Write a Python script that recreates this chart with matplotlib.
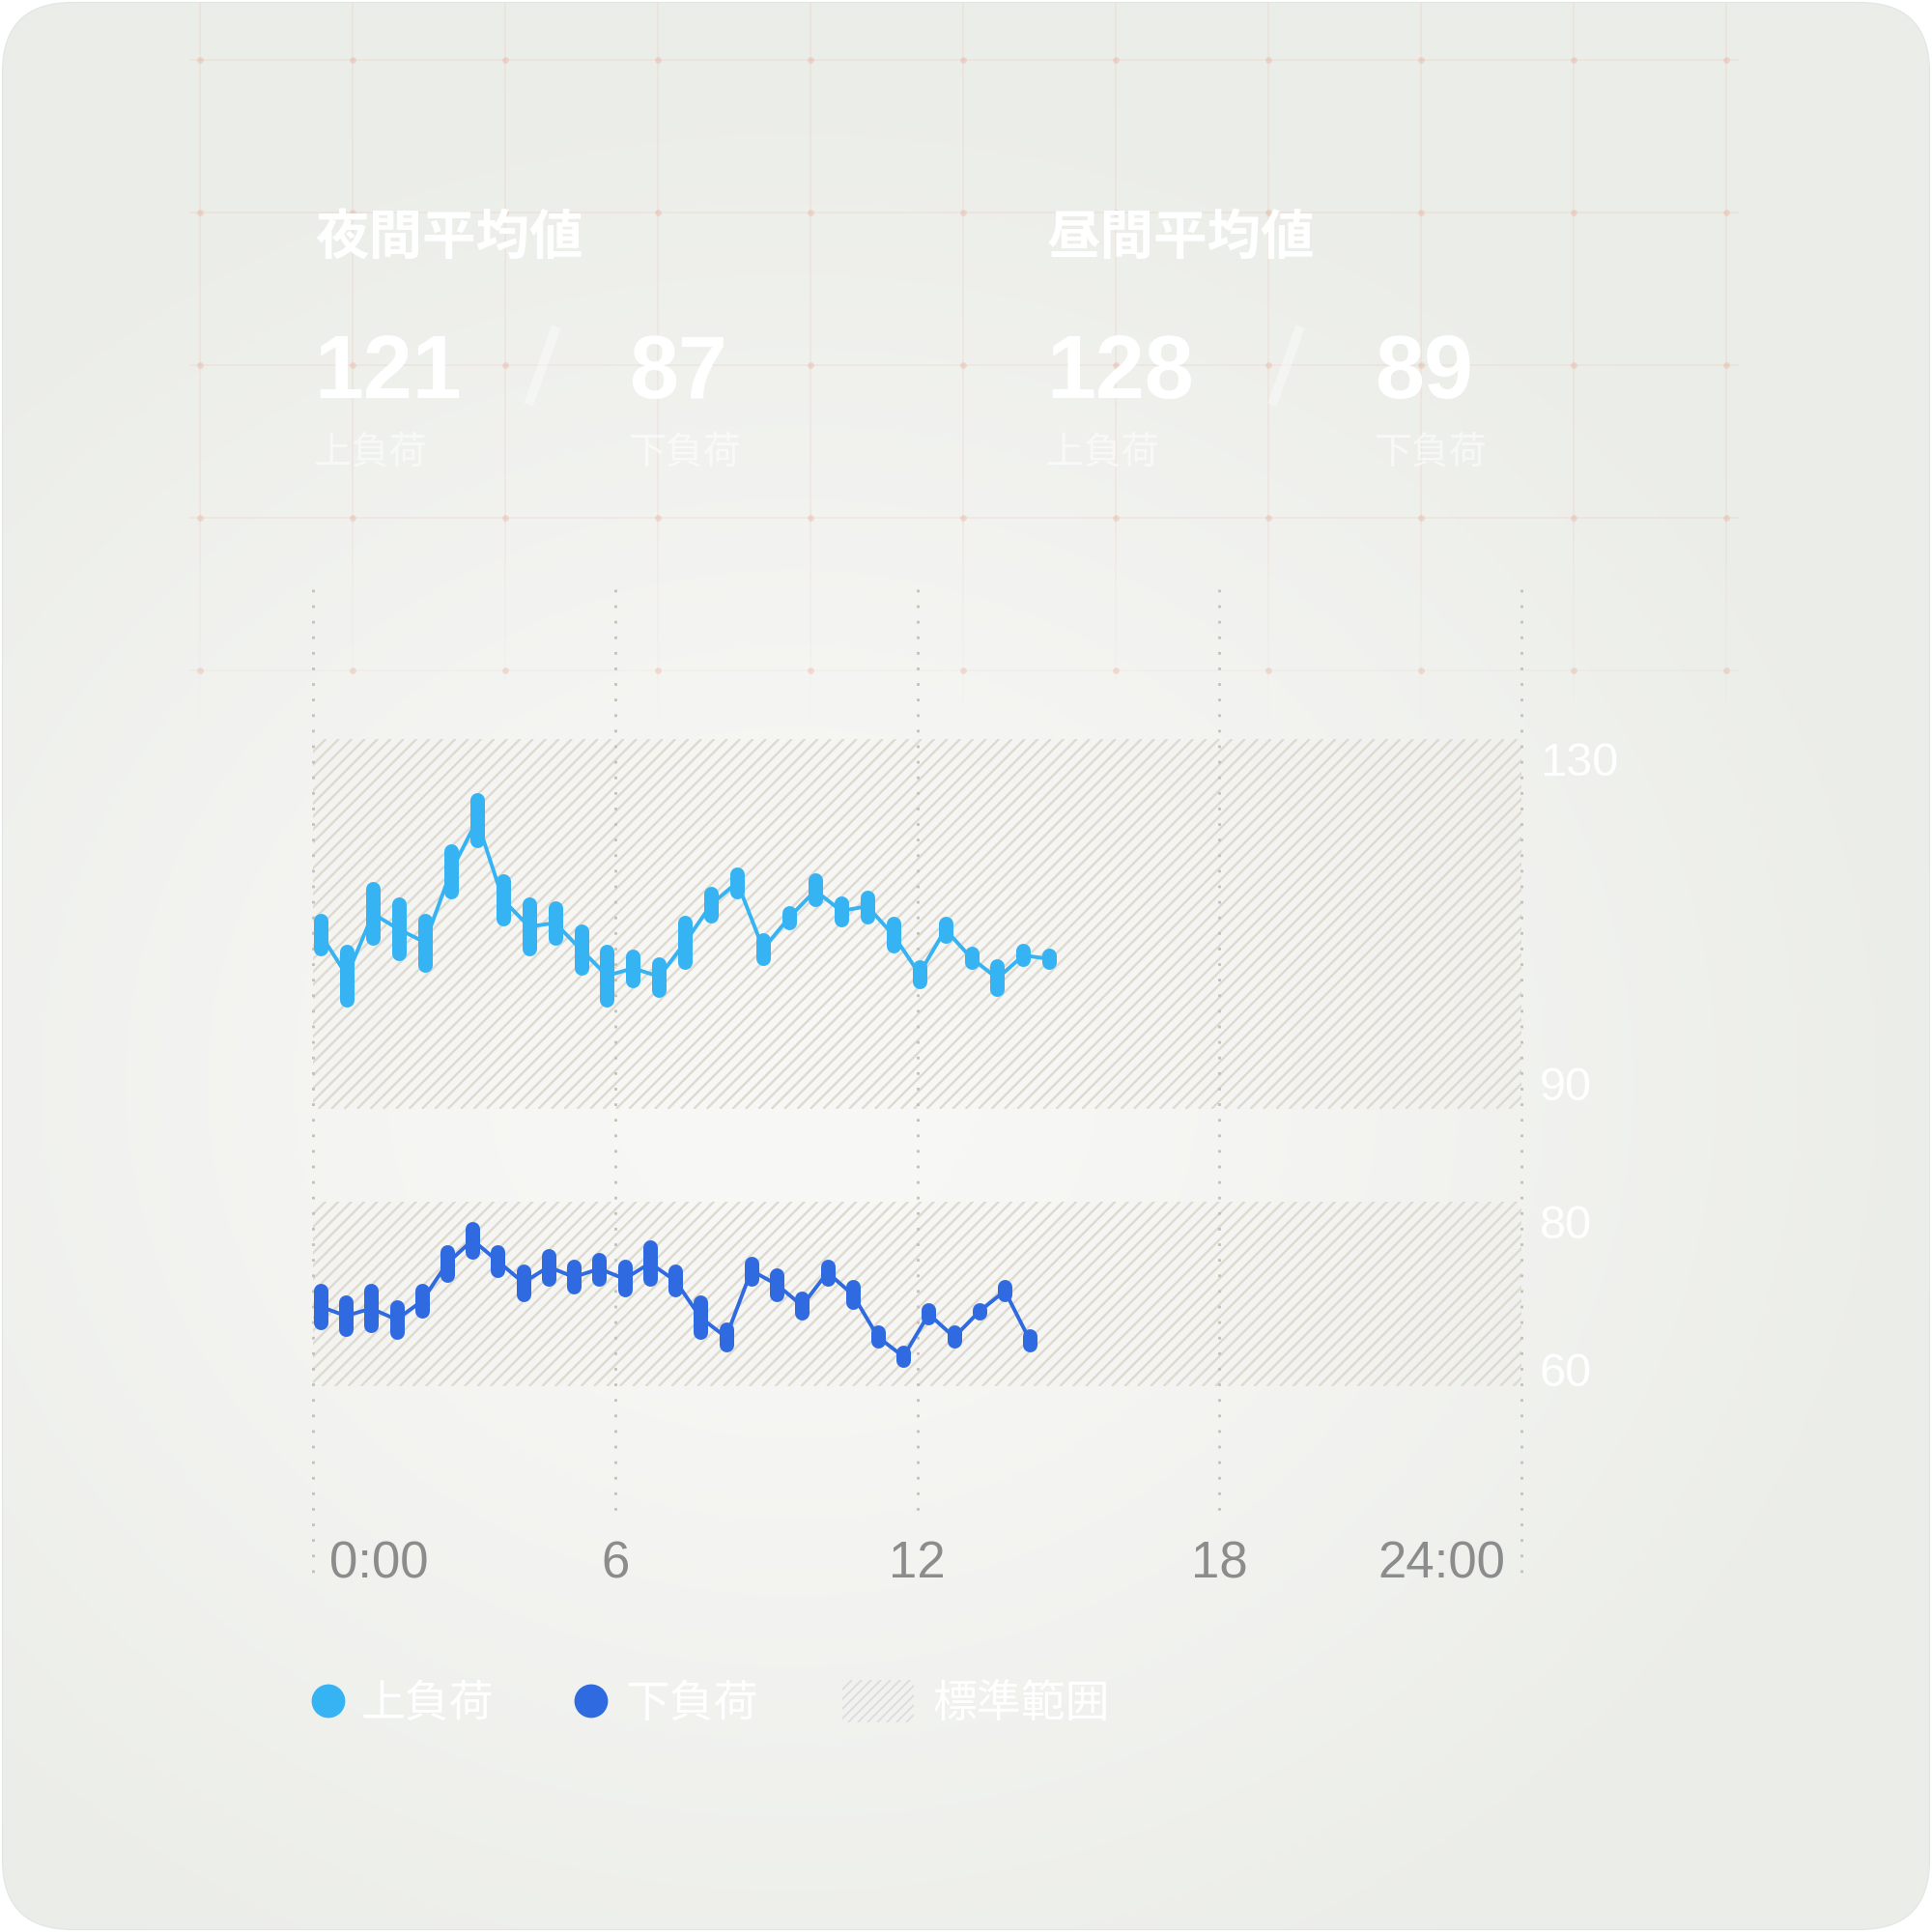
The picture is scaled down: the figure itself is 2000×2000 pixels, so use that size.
import numpy as np
import matplotlib
matplotlib.use("Agg")
import matplotlib.pyplot as plt
from matplotlib.patches import FancyBboxPatch, Rectangle, Circle
from matplotlib.collections import LineCollection

plt.rcParams['font.family'] = ['Noto Sans CJK JP', 'DejaVu Sans']

# ---- data ----
hour_ticks = [0, 6, 12, 18, 24]
hour_labels = ['0:00', '6', '12', '18', '24:00']
band_upper = (90, 130)
band_lower = (60, 80)
range_labels = [130, 90, 80, 60]

series_names = ['上負荷', '下負荷']
summary_titles = ['夜間平均値', '昼間平均値']
summary_upper = [121, 128]
summary_lower = [87, 89]

# sample times (minutes after 0:00)
upper_minutes = np.arange(29) * 31.0 + 9.5
lower_minutes = np.arange(29) * 30.2 + 9.0

upper_hi = [110.4, 107.0, 113.8, 112.1, 110.4, 117.9, 123.4, 114.6, 112.1, 111.7,
            109.2, 107.0, 106.5, 105.7, 110.1, 113.3, 115.4, 108.3, 111.2, 114.7,
            112.2, 112.9, 110.0, 105.3, 110.0, 106.8, 105.4, 107.1, 106.6]
upper_lo = [107.3, 101.8, 108.5, 106.8, 105.5, 113.5, 119.0, 110.6, 107.3, 108.5,
            105.2, 101.8, 103.9, 102.8, 105.9, 110.9, 113.5, 106.3, 110.1, 112.6,
            110.5, 110.8, 107.6, 103.8, 108.7, 105.9, 102.9, 106.2, 105.9]
upper_avg = [108.8, 104.4, 111.1, 109.4, 108.0, 115.7, 121.2, 112.6, 109.7, 110.1,
             107.2, 104.4, 105.2, 104.3, 108.0, 112.1, 114.5, 107.3, 110.7, 113.6,
             111.4, 111.9, 108.8, 104.6, 109.4, 106.3, 104.1, 106.6, 106.2]

lower_hi = [70.3, 69.1, 70.3, 68.6, 70.3, 74.5, 77.0, 74.5, 72.4, 74.1,
            72.9, 73.7, 72.9, 75.0, 72.4, 69.1, 66.2, 73.3, 72.0, 69.5,
            72.9, 70.8, 65.8, 63.7, 68.3, 65.8, 68.3, 70.8, 65.4]
lower_lo = [66.9, 66.2, 66.6, 65.8, 68.1, 72.0, 74.5, 72.5, 69.9, 71.6,
            70.8, 71.6, 70.4, 71.6, 70.4, 65.8, 64.5, 71.6, 69.9, 67.9,
            71.6, 69.1, 64.9, 62.8, 67.4, 64.9, 67.9, 69.9, 64.5]
lower_avg = [68.6, 67.6, 68.4, 67.2, 69.2, 73.3, 75.8, 73.5, 71.2, 72.9,
             71.8, 72.7, 71.6, 73.3, 71.4, 67.4, 65.3, 72.5, 71.0, 68.7,
             72.3, 69.9, 65.3, 63.2, 67.8, 65.3, 68.1, 70.3, 64.9]

# ---- style ----
C_UPPER = '#35b3f3'
C_LOWER = '#2f6ae0'
C_HATCH = '#dfdad0'
C_DOT = '#c0c1b9'
C_TICK = '#8c8c8c'
C_GRID = '#e8a08a'

fig = plt.figure(figsize=(10, 10), dpi=200)
fig.patch.set_facecolor('white')

# background canvas in pixel coordinates (y down)
bg = fig.add_axes([0, 0, 1, 1])
bg.set_xlim(0, 2000)
bg.set_ylim(2000, 0)
bg.axis('off')

card = FancyBboxPatch((75, 75), 1850, 1850, boxstyle='round,pad=72,rounding_size=72',
                      facecolor='#eceee9', edgecolor='#e3e5e0', lw=0.8, zorder=0)
bg.add_patch(card)
yy, xx = np.mgrid[0:2000:2, 0:2000:2]
r = np.sqrt(((xx - 820) / 1200.0) ** 2 + ((yy - 1120) / 1050.0) ** 2)
t = np.clip(r, 0, 1) ** 1.4
c_center = np.array([248, 248, 246]) / 255.0
c_edge = np.array([235, 237, 232]) / 255.0
img = c_center + (c_edge - c_center) * t[..., None]
im = bg.imshow(img, extent=(0, 2000, 2000, 0), zorder=0.5, interpolation='bilinear')
im.set_clip_path(card)

# faint decorative grid in the header area
grid_x = 207 + 158 * np.arange(11)
grid_y = 62 + 158 * np.arange(5)
segs, alphas = [], []
for gx in grid_x:
    for y0 in range(3, 760, 20):
        a = 0.15 if y0 < 520 else 0.15 * max(0.0, 1 - (y0 - 520) / 220.0)
        segs.append([(gx, y0), (gx, y0 + 20)])
        alphas.append(a)
for gy in grid_y:
    segs.append([(196, gy), (1800, gy)])
    alphas.append(0.15 if gy < 600 else 0.08)
grid_cols = [matplotlib.colors.to_rgba(C_GRID, a) for a in alphas]
bg.add_collection(LineCollection(segs, colors=grid_cols, linewidths=0.55, zorder=1))
gxx, gyy = np.meshgrid(grid_x, grid_y)
bg.scatter(gxx.ravel(), gyy.ravel(), s=6, color=C_GRID, alpha=0.3, lw=0, zorder=1)

# ---- chart axes ----
ax = fig.add_axes([324 / 2000, 1 - 1639 / 2000, 1251 / 2000, 1029 / 2000])
ax.set_xlim(0, 24)
ax.set_ylim(38.68, 146.19)
ax.axis('off')
ax.patch.set_alpha(0)


def to_bg(x, y):
    return bg.transData.inverted().transform(ax.transData.transform((x, y)))


def hatch_rect(x0, y0, x1, y1, step=13.4, color=C_HATCH, lw=0.85, alpha=1.0):
    rect = Rectangle((x0, y0), x1 - x0, y1 - y0, fill=False, lw=0, zorder=2)
    bg.add_patch(rect)
    h = y1 - y0
    lines = [[(c, y1), (c + h, y0)] for c in np.arange(x0 - h, x1 + step, step)]
    lc = LineCollection(lines, colors=color, linewidths=lw, alpha=alpha, zorder=2)
    bg.add_collection(lc)
    lc.set_clip_path(rect)


for lo_v, hi_v in (band_upper, band_lower):
    (bx0, by0) = to_bg(0, hi_v)
    (bx1, by1) = to_bg(24, lo_v)
    hatch_rect(bx0, by0, bx1, by1)

# dotted hour lines (drawn top-down so the dot pattern starts at the top)
ytop = ax.get_ylim()[1]
for h in hour_ticks:
    ybot = 38.68 if h in (0, 24) else 46.3
    ax.plot([h, h], [ytop, ybot], color=C_DOT, lw=1.0, linestyle=(0, (1, 4.8)),
            dash_capstyle='butt', clip_on=False, zorder=1)

# series
for minutes, hi, lo, avg, col in ((upper_minutes, upper_hi, upper_lo, upper_avg, C_UPPER),
                                   (lower_minutes, lower_hi, lower_lo, lower_avg, C_LOWER)):
    hours = minutes / 60.0
    ax.plot(hours, avg, color=col, lw=1.4, zorder=3, solid_joinstyle='round')
    vl = ax.vlines(hours, lo, hi, colors=col, linewidth=5.4, zorder=4)
    vl.set_capstyle('round')

# x tick labels
for h, lab in zip(hour_ticks, hour_labels):
    px, _ = to_bg(h, 0)
    if h == hour_ticks[0]:
        ha, px = 'left', px + 17
    elif h == hour_ticks[-1]:
        ha, px = 'right', px - 17
    else:
        ha = 'center'
    bg.text(px, 1633, lab, ha=ha, va='baseline', fontsize=19,
            family='Liberation Sans', color=C_TICK, zorder=5)

# range labels sit just inside the band edges
for v in range_labels:
    px, py = to_bg(24, v)
    if v in (band_upper[1], band_lower[1]):
        shift = 38
    elif v == band_upper[0]:
        shift = -9
    else:
        shift = 0
    bg.text(px + 19, py + shift, str(v), ha='left', va='baseline', fontsize=17.5,
            family='Liberation Sans', color='white', zorder=5)

# ---- header summary ----
for i, x0 in enumerate((326, 1084)):
    bg.text(x0, 247, summary_titles[i], fontsize=20, fontweight='bold', color='white',
            ha='left', va='center', zorder=5)
    bg.text(x0 - 1, 412, str(summary_upper[i]), fontsize=33, fontweight='bold',
            family='Liberation Sans', color='white', ha='left', va='baseline', zorder=5)
    x1 = 651 if i == 0 else 1423
    bg.text(x1, 412, str(summary_lower[i]), fontsize=33, fontweight='bold',
            family='Liberation Sans', color='white', ha='left', va='baseline', zorder=5)
    sx = 547 if i == 0 else 1317
    bg.plot([sx, sx + 29], [419, 338], color='white', alpha=0.38, lw=3.6,
            solid_capstyle='butt', zorder=5)
    bg.text(x0 - 1, 470, series_names[0], fontsize=14, color='white', alpha=0.6,
            ha='left', va='center', zorder=5)
    bg.text(x1, 470, series_names[1], fontsize=14, color='white', alpha=0.6,
            ha='left', va='center', zorder=5)

# ---- legend ----
bg.add_patch(Circle((340, 1761), 16, color=C_UPPER, zorder=5))
bg.text(374, 1764, series_names[0], fontsize=16.5, color='white', ha='left', va='center', zorder=5)
bg.add_patch(Circle((612, 1761), 16, color=C_LOWER, zorder=5))
bg.text(647, 1764, series_names[1], fontsize=16.5, color='white', ha='left', va='center', zorder=5)
hatch_rect(872, 1739, 946, 1783, step=10, color='#dcdde0', lw=0.7)
bg.text(966, 1764, '標準範囲', fontsize=16.5, color='white', ha='left', va='center', zorder=5)

fig.savefig('out.png', dpi=200, facecolor='white')
